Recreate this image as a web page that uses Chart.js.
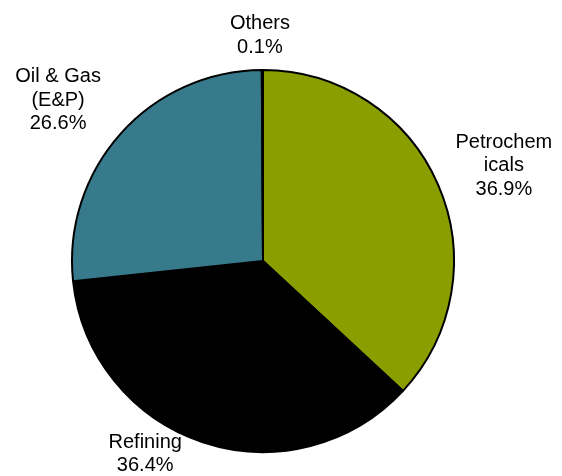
<!DOCTYPE html>
<html>
<head>
<meta charset="utf-8">
<script src="https://cdn.jsdelivr.net/npm/chart.js@4"></script>
<style>
    html, body { margin: 0; padding: 0; background: #fff; }
    #wrap { width: 562px; height: 476px; }
</style>
</head>
<body>
<div id="wrap"><canvas id="chart-pie"></canvas></div>
<script>
// segment share, clockwise from 12 o'clock
const segments = ['Petrochemicals', 'Refining', 'Oil & Gas (E&P)', 'Others'];
const shares = [36.9, 36.4, 26.6, 0.1];
const labelLines = [
    ['Petrochem', 'icals'],
    ['Refining'],
    ['Oil & Gas', '(E&P)'],
    ['Others']
];
const colors = ['#8A9E00', '#000000', '#367A8C', '#000000'];

// where each label sits relative to its slice: angle nudge (deg) and radius factor
const labelPlace = [
    { turn: 1.6, dist: 1.36 },
    { turn: 13.3, dist: 1.175 },
    { turn: -3.3, dist: 1.37 },
    { turn: -0.6, dist: 1.19 }
];

const outsideLabels = {
    id: 'outsideLabels',
    afterDraw(chart) {
        const ctx = chart.ctx;
        const meta = chart.getDatasetMeta(0);
        ctx.save();
        ctx.font = '20px "Liberation Sans", Arial, sans-serif';
        ctx.fillStyle = '#000';
        ctx.textAlign = 'center';
        ctx.textBaseline = 'middle';
        const lineH = 23.5;
        meta.data.forEach((arc, i) => {
            const p = labelPlace[i];
            const mid = (arc.startAngle + arc.endAngle) / 2 + p.turn * Math.PI / 180;
            const r = arc.outerRadius * p.dist;
            const cx = arc.x + Math.cos(mid) * r;
            const cy = arc.y + Math.sin(mid) * r + 2;
            const lines = labelLines[i].concat([shares[i].toFixed(1) + '%']);
            const top = cy - (lines.length - 1) * lineH / 2;
            lines.forEach((t, k) => ctx.fillText(t, cx, top + k * lineH));
        });
        ctx.restore();
    }
};

new Chart(document.getElementById('chart-pie'), {
    type: 'pie',
    data: {
        labels: segments,
        datasets: [{
            data: shares,
            backgroundColor: colors,
            borderColor: '#000000',
            borderWidth: 2
        }]
    },
    options: {
        responsive: true,
        maintainAspectRatio: false,
        animation: false,
        layout: {
            padding: { top: 69, bottom: 23, left: 71, right: 107 }
        },
        plugins: {
            legend: { display: false },
            tooltip: { enabled: false }
        }
    },
    plugins: [outsideLabels]
});
</script>
</body>
</html>
